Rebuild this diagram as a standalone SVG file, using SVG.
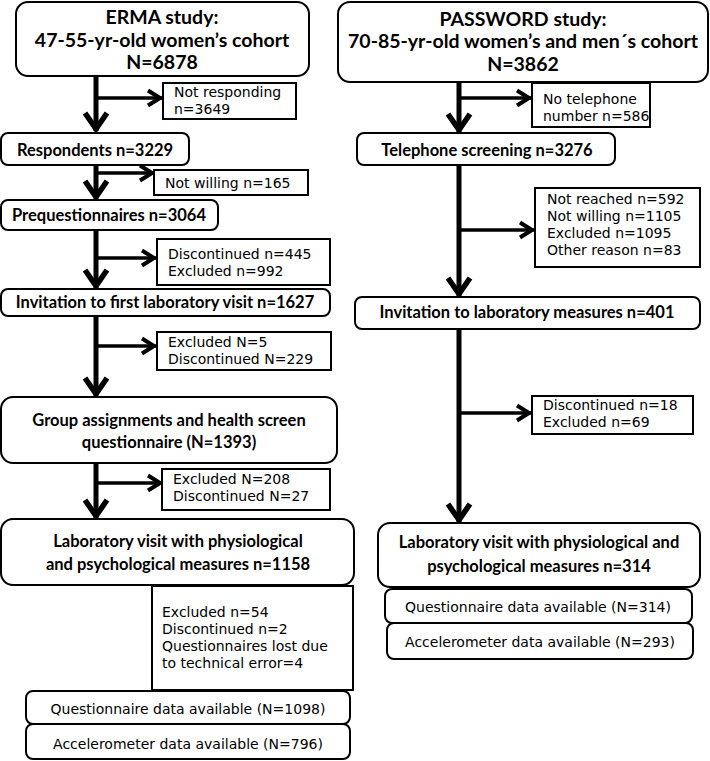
<svg xmlns="http://www.w3.org/2000/svg" width="710" height="761" viewBox="0 0 710 761">
<defs>
<style>
.bg{fill:#fff}
.rb{fill:#fff;stroke:#000;stroke-width:2}
.sb{fill:#fff;stroke:#000;stroke-width:2}
text{font-family:Lato,"Liberation Sans",sans-serif;fill:#000}
.t{font-size:19.5px;font-weight:bold;text-anchor:middle}
.b{font-size:16.5px;font-weight:bold;text-anchor:middle}
.r{font-family:"DejaVu Sans",sans-serif;font-size:14px}
.rc{font-family:"DejaVu Sans",sans-serif;font-size:14px;text-anchor:middle}
.trunk{fill:none;stroke:#000;stroke-width:5}
.br{fill:none;stroke:#000;stroke-width:3.5}
</style>
<marker id="av" viewBox="-24 -14 28 28" markerWidth="28" markerHeight="28" refX="0" refY="0" orient="auto" markerUnits="userSpaceOnUse">
<path d="M-18,-11 L-2,0 L-18,11" fill="none" stroke="#000" stroke-width="5.5"/>
</marker>
<marker id="ah" viewBox="-20 -10 22 20" markerWidth="22" markerHeight="20" refX="0" refY="0" orient="auto" markerUnits="userSpaceOnUse">
<path d="M-14,-7.5 L-2,0 L-14,7.5" fill="none" stroke="#000" stroke-width="4"/>
</marker>
</defs>
<rect class="bg" x="0" y="0" width="710" height="761"/>

<g id="connectors">
<path class="trunk" d="M96,76 V131" marker-end="url(#av)"/>
<path class="br" d="M96,98 H162" marker-end="url(#ah)"/>
<path class="trunk" d="M96,165 V199" marker-end="url(#av)"/>
<path class="br" d="M96,173 H154" marker-end="url(#ah)"/>
<path class="trunk" d="M96,230 V288" marker-end="url(#av)"/>
<path class="br" d="M96,258 H156" marker-end="url(#ah)"/>
<path class="trunk" d="M96,316 V396" marker-end="url(#av)"/>
<path class="br" d="M96,346 H156" marker-end="url(#ah)"/>
<path class="trunk" d="M96,463 V518" marker-end="url(#av)"/>
<path class="br" d="M96,483 H162" marker-end="url(#ah)"/>

<path class="trunk" d="M459,82 V132" marker-end="url(#av)"/>
<path class="br" d="M459,98 H531" marker-end="url(#ah)"/>
<path class="trunk" d="M459,165 V296" marker-end="url(#av)"/>
<path class="br" d="M459,230 H534" marker-end="url(#ah)"/>
<path class="trunk" d="M459,329 V522" marker-end="url(#av)"/>
<path class="br" d="M459,413 H531" marker-end="url(#ah)"/>
</g>

<g id="erma-title">
<rect class="rb" x="16" y="2" width="293" height="74" rx="12"/>
<text class="t" x="162" y="24">ERMA study:<tspan x="162" dy="23">47-55-yr-old women’s cohort</tspan><tspan x="162" dy="22">N=6878</tspan></text>
</g>
<g id="not-responding">
<rect class="sb" x="163" y="83" width="133" height="36"/>
<text class="r" x="174" y="97">Not responding<tspan x="174" dy="17">n=3649</tspan></text>
</g>
<g id="respondents">
<rect class="rb" x="1" y="133" width="188" height="32" rx="7"/>
<text class="b" x="95" y="156">Respondents n=3229</text>
</g>
<g id="not-willing">
<rect class="sb" x="154" y="170" width="154" height="25"/>
<text class="r" x="165" y="188">Not willing n=165</text>
</g>
<g id="prequestionnaires">
<rect class="rb" x="1" y="200" width="217" height="30" rx="7"/>
<text class="b" x="109" y="221">Prequestionnaires n=3064</text>
</g>
<g id="disc-445">
<rect class="sb" x="157" y="239" width="173" height="46"/>
<text class="r" x="168" y="259">Discontinued n=445<tspan x="168" dy="17">Excluded n=992</tspan></text>
</g>
<g id="invitation-first">
<rect class="rb" x="1" y="289" width="329" height="27" rx="7"/>
<text class="b" x="165" y="308">Invitation to first laboratory visit n=1627</text>
</g>
<g id="excl-5">
<rect class="sb" x="157" y="332" width="174" height="38"/>
<text class="r" x="168" y="347">Excluded N=5<tspan x="168" dy="17">Discontinued N=229</tspan></text>
</g>
<g id="group-assign">
<rect class="rb" x="1" y="397" width="336" height="66" rx="12"/>
<text class="b" x="169" y="426">Group assignments and health screen<tspan x="169" dy="22">questionnaire (N=1393)</tspan></text>
</g>
<g id="excl-208">
<rect class="sb" x="162" y="469" width="168" height="41"/>
<text class="r" x="173" y="484">Excluded N=208<tspan x="173" dy="17">Discontinued N=27</tspan></text>
</g>
<g id="lab-erma">
<rect class="rb" x="1" y="519" width="353" height="66" rx="12"/>
<text class="b" x="178" y="547">Laboratory visit with physiological<tspan x="178" dy="23">and psychological measures n=1158</tspan></text>
</g>
<g id="excl-54">
<rect class="sb" x="152" y="586" width="201" height="104"/>
<text class="r" x="162" y="617">Excluded n=54<tspan x="162" dy="17">Discontinued n=2</tspan><tspan x="162" dy="17">Questionnaires lost due</tspan><tspan x="162" dy="17">to technical error=4</tspan></text>
</g>
<g id="q-erma">
<rect class="rb" x="26" y="691" width="324" height="33" rx="7"/>
<text class="rc" x="188" y="714">Questionnaire data available (N=1098)</text>
</g>
<g id="acc-erma">
<rect class="rb" x="26" y="724" width="324" height="35" rx="7"/>
<text class="rc" x="188" y="749">Accelerometer data available (N=796)</text>
</g>

<g id="password-title">
<rect class="rb" x="338" y="2" width="370" height="80" rx="12"/>
<text class="t" x="523" y="26">PASSWORD study:<tspan x="523" dy="22">70-85-yr-old women’s and men´s cohort</tspan><tspan x="523" dy="23">N=3862</tspan></text>
</g>
<g id="no-telephone">
<rect class="sb" x="532" y="83" width="118" height="44"/>
<text class="r" x="543" y="104">No telephone<tspan x="543" dy="17">number n=586</tspan></text>
</g>
<g id="telephone-screening">
<rect class="rb" x="357" y="133" width="258" height="32" rx="7"/>
<text class="b" x="487" y="156">Telephone screening n=3276</text>
</g>
<g id="not-reached">
<rect class="sb" x="535" y="188" width="165" height="79"/>
<text class="r" x="547" y="204">Not reached n=592<tspan x="547" dy="17">Not willing n=1105</tspan><tspan x="547" dy="17">Excluded n=1095</tspan><tspan x="547" dy="17">Other reason n=83</tspan></text>
</g>
<g id="invitation-lab">
<rect class="rb" x="355" y="297" width="345" height="32" rx="7"/>
<text class="b" x="527" y="318">Invitation to laboratory measures n=401</text>
</g>
<g id="disc-18">
<rect class="sb" x="532" y="396" width="161" height="38"/>
<text class="r" x="543" y="410">Discontinued n=18<tspan x="543" dy="17">Excluded n=69</tspan></text>
</g>
<g id="lab-password">
<rect class="rb" x="378" y="523" width="322" height="64" rx="12"/>
<text class="b" x="539" y="548">Laboratory visit with physiological and<tspan x="539" dy="24">psychological measures n=314</tspan></text>
</g>
<g id="q-password">
<rect class="rb" x="385" y="589" width="307" height="34" rx="7"/>
<text class="rc" x="538" y="612">Questionnaire data available (N=314)</text>
</g>
<g id="acc-password">
<rect class="rb" x="387" y="623" width="306" height="36" rx="7"/>
<text class="rc" x="540" y="647">Accelerometer data available (N=293)</text>
</g>
</svg>
